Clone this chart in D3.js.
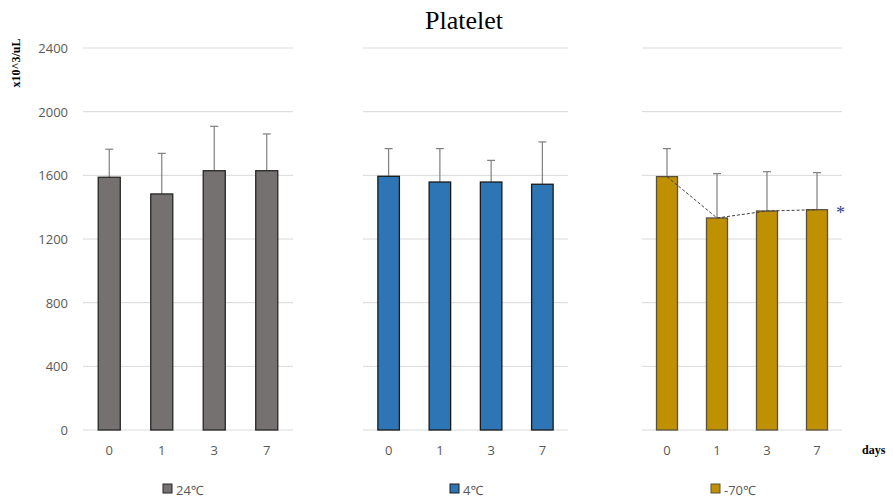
<!DOCTYPE html>
<html>
<head>
<meta charset="utf-8">
<script src="https://cdn.jsdelivr.net/npm/d3@7"></script>
<style>
  html, body { margin: 0; padding: 0; background: #fff; }
  svg { display: block; }
</style>
</head>
<body>
<svg id="chart" width="893" height="503"></svg>
<script>
// Platelet counts (x10^3/uL) by storage day, one panel per storage temperature
const days = ["0", "1", "3", "7"];
const yTicks = [0, 400, 800, 1200, 1600, 2000, 2400];

const temp24Mean = [1588, 1483, 1629, 1629];
const temp24Upper = [1764, 1738, 1908, 1860];

const temp4Mean = [1594, 1558, 1558, 1544];
const temp4Upper = [1768, 1768, 1694, 1810];

const tempM70Mean = [1592, 1332, 1376, 1384];
const tempM70Upper = [1768, 1611, 1623, 1617];

const legendLabels = ["24℃", "4℃", "-70℃"];

const panels = [
  { label: legendLabels[0], mean: temp24Mean, upper: temp24Upper, x0: 83, x1: 293, fill: "#767171", stroke: "#262626", legendX: 163, trend: false },
  { label: legendLabels[1], mean: temp4Mean, upper: temp4Upper, x0: 363, x1: 568, fill: "#2E75B6", stroke: "#1a1a1a", legendX: 450, trend: false },
  { label: legendLabels[2], mean: tempM70Mean, upper: tempM70Upper, x0: 642, x1: 842, fill: "#BF9000", stroke: "#5a5040", legendX: 711, trend: true }
];

const svg = d3.select("#chart");
const y = d3.scaleLinear().domain([0, 2400]).range([430, 48]);

// Title
svg.append("text")
  .attr("x", 464).attr("y", 29)
  .attr("text-anchor", "middle")
  .attr("font-family", "'Liberation Serif', 'Times New Roman', serif")
  .attr("font-size", 26)
  .attr("fill", "#000")
  .text("Platelet");

// Y axis unit label
svg.append("text")
  .attr("transform", "translate(19.5,63) rotate(-90)")
  .attr("text-anchor", "middle")
  .attr("font-family", "'Liberation Serif', 'Times New Roman', serif")
  .attr("font-weight", "bold")
  .attr("font-size", 12)
  .attr("fill", "#000")
  .text("x10^3/uL");

// Y tick labels (first panel only)
svg.append("g")
  .selectAll("text")
  .data(yTicks)
  .join("text")
  .attr("x", 68)
  .attr("y", d => y(d) + 5)
  .attr("text-anchor", "end")
  .attr("font-family", "'Open Sans', 'Noto Sans', sans-serif")
  .attr("font-size", 13)
  .attr("fill", "#595959")
  .text(d => d);

panels.forEach(p => {
  const g = svg.append("g");
  const x = d3.scaleBand().domain(days).range([p.x0, p.x1]).paddingInner(0.58).paddingOuter(0.29);

  // Gridlines
  g.append("g")
    .selectAll("line")
    .data(yTicks)
    .join("line")
    .attr("x1", p.x0).attr("x2", p.x1)
    .attr("y1", d => y(d)).attr("y2", d => y(d))
    .attr("stroke", "#d9d9d9")
    .attr("stroke-width", 1);

  // Error bars (upper only)
  const eb = g.append("g");
  days.forEach((d, i) => {
    const cx = x(d) + x.bandwidth() / 2;
    eb.append("line")
      .attr("x1", cx).attr("x2", cx)
      .attr("y1", y(p.mean[i])).attr("y2", y(p.upper[i]))
      .attr("stroke", "#7f7f7f").attr("stroke-width", 1.2);
    eb.append("line")
      .attr("x1", cx - 4).attr("x2", cx + 4)
      .attr("y1", y(p.upper[i])).attr("y2", y(p.upper[i]))
      .attr("stroke", "#7f7f7f").attr("stroke-width", 1.2);
  });

  // Bars
  g.append("g")
    .selectAll("rect")
    .data(days)
    .join("rect")
    .attr("x", d => x(d))
    .attr("y", (d, i) => y(p.mean[i]))
    .attr("width", x.bandwidth())
    .attr("height", (d, i) => y(0) - y(p.mean[i]))
    .attr("fill", p.fill)
    .attr("stroke", p.stroke)
    .attr("stroke-width", 1.3);

  // Trend line across bar tops
  if (p.trend) {
    const line = d3.line()
      .x((d, i) => x(days[i]) + x.bandwidth() / 2)
      .y(d => y(d));
    g.append("path")
      .attr("d", line(p.mean))
      .attr("fill", "none")
      .attr("stroke", "#404040")
      .attr("stroke-width", 1)
      .attr("stroke-dasharray", "3,2");
    const last = p.mean.length - 1;
    g.append("text")
      .attr("x", x(days[last]) + x.bandwidth() + 13)
      .attr("y", y(p.mean[last]) + 9)
      .attr("text-anchor", "middle")
      .attr("font-family", "'Liberation Serif', serif")
      .attr("font-size", 18)
      .attr("fill", "#2f3f8f")
      .text("*");
  }

  // X tick labels
  g.append("g")
    .selectAll("text")
    .data(days)
    .join("text")
    .attr("x", d => x(d) + x.bandwidth() / 2)
    .attr("y", 455)
    .attr("text-anchor", "middle")
    .attr("font-family", "'Open Sans', 'Noto Sans', sans-serif")
    .attr("font-size", 13)
    .attr("fill", "#595959")
    .text(d => d);

  // Legend
  g.append("rect")
    .attr("x", p.legendX).attr("y", 484)
    .attr("width", 9).attr("height", 9)
    .attr("fill", p.fill)
    .attr("stroke", p.stroke)
    .attr("stroke-width", 1);
  g.append("text")
    .attr("x", p.legendX + 13).attr("y", 495)
    .attr("font-family", "'Open Sans', 'Noto Sans', sans-serif")
    .attr("font-size", 13)
    .attr("fill", "#595959")
    .text(p.label);
});

// X axis unit label
svg.append("text")
  .attr("x", 862).attr("y", 454)
  .attr("font-family", "'Liberation Serif', 'Times New Roman', serif")
  .attr("font-weight", "bold")
  .attr("font-size", 12)
  .attr("fill", "#000")
  .text("days");
</script>
</body>
</html>
